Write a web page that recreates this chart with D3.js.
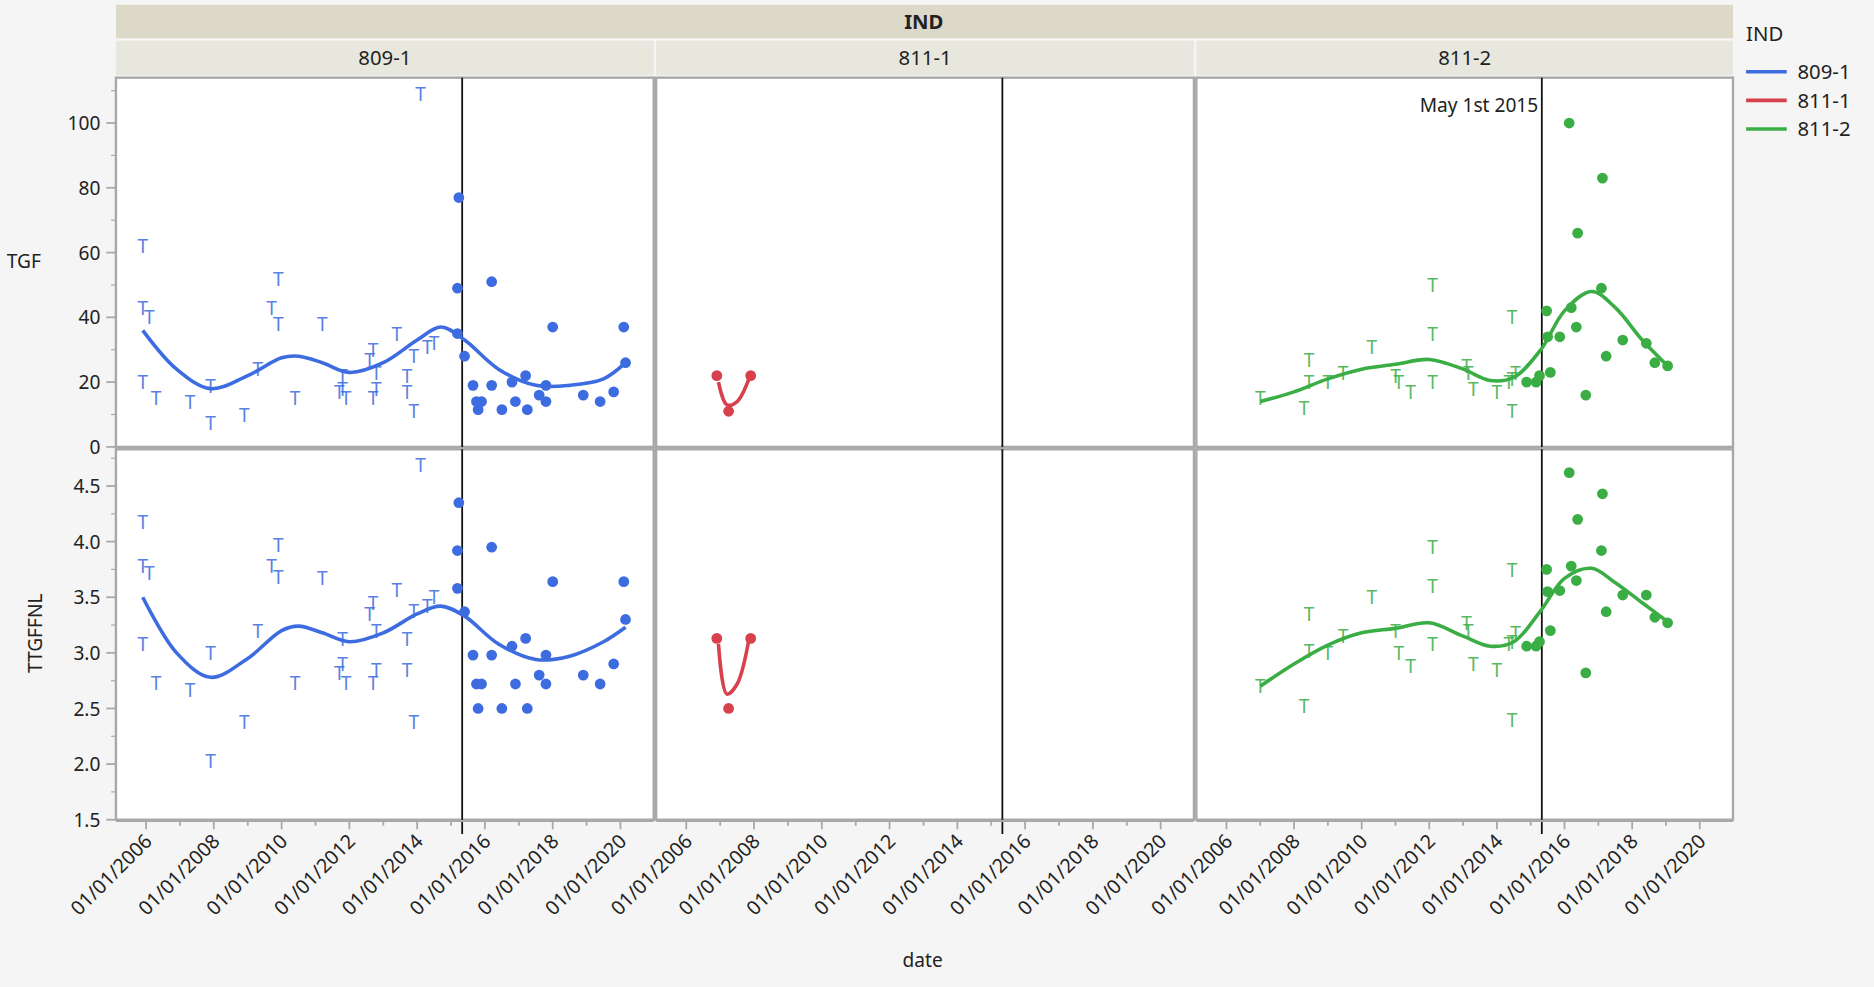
<!DOCTYPE html>
<html lang="en">
<head>
<meta charset="UTF-8">
<title>IND</title>
<script src="https://cdn.jsdelivr.net/npm/d3@7/dist/d3.min.js"></script>
<style>
  *{margin:0;padding:0;}
  body{background:#f5f5f5;overflow:hidden;}
  text{font-family:"Segoe UI","Noto Sans","DejaVu Sans",sans-serif;fill:#222;}
</style>
</head>
<body>
<script>
// groups (IND)
let groups = ["809-1","811-1","811-2"];
let colors = ["#3d6ce0","#d8404c","#3aae45"];
let xTicks = [2006,2008,2010,2012,2014,2016,2018,2020];
let cutYear = 2015.33; // May 1st 2015

// 809-1 : before cut (T markers)
let g1PreYear = [2005.9,2005.9,2006.1,2005.9,2006.3,2007.3,2007.9,2007.9,2008.9,2009.3,2009.7,2009.9,2009.9,2010.4,2011.2,2011.7,2011.8,2011.8,2011.9,2012.6,2012.7,2012.7,2012.8,2012.8,2013.4,2013.7,2013.7,2013.9,2013.9,2014.1,2014.3,2014.5];
let g1PreTGF  = [62,43,40,20,15,14,19,7.5,10,24,43,52,38,15,38,17,22,18,15,27,30,15,18,23,35,22,17,11,28,109,31,32];
let g1PreTT   = [4.18,3.78,3.72,3.08,2.73,2.67,3.0,2.03,2.38,3.2,3.78,3.97,3.68,2.73,3.67,2.82,3.13,2.9,2.73,3.35,3.45,2.73,2.85,3.2,3.57,3.13,2.85,2.38,3.38,4.69,3.42,3.5];
// 809-1 : after cut (dots)
let g1PostYear = [2015.23,2015.19,2015.19,2015.4,2015.65,2015.75,2015.8,2015.9,2016.2,2016.2,2016.5,2016.8,2016.9,2017.2,2017.25,2017.6,2017.8,2017.8,2018.0,2018.9,2019.4,2019.8,2020.1,2020.15];
let g1PostTGF  = [77,49,35,28,19,14,11.5,14,19,51,11.5,20,14,22,11.5,16,14,19,37,16,14,17,37,26];
let g1PostTT   = [4.35,3.92,3.58,3.37,2.98,2.72,2.5,2.72,2.98,3.95,2.5,3.06,2.72,3.13,2.5,2.8,2.72,2.98,3.64,2.8,2.72,2.9,3.64,3.3];
let g1FitYear = [2005.9,2006.9,2007.9,2009.0,2010.0,2010.5,2011.2,2012.0,2013.0,2014.0,2014.7,2015.4,2016.4,2017.5,2018.5,2019.5,2020.15];
let g1FitTGF  = [36,24,18,22,27.5,28,26,23,26,33,37,33,24,19,19,21,26];
let g1FitTT   = [3.5,3.0,2.78,2.95,3.2,3.24,3.18,3.1,3.18,3.35,3.42,3.33,3.08,2.94,2.97,3.1,3.23];

// 811-1
let g2PostYear = [2006.9,2007.25,2007.9];
let g2PostTGF  = [22,11,22];
let g2PostTT   = [3.13,2.5,3.13];
let g2FitYear = [2006.95,2007.2,2007.5,2007.85];
let g2FitTGF  = [20,13,14,21];
let g2FitTT   = [3.08,2.63,2.72,3.12];

// 811-2
let g3PreYear = [2007.0,2008.3,2008.45,2008.45,2009.0,2009.45,2010.3,2011.0,2011.1,2011.45,2012.1,2012.1,2012.1,2013.1,2013.15,2013.3,2014.0,2014.35,2014.45,2014.45,2014.45,2014.55];
let g3PreTGF  = [15,12,27,20,20,23,31,22,20,17,50,35,20,25,23,18,17,20,21,40,11,23];
let g3PreTT   = [2.7,2.52,3.35,3.02,3.0,3.15,3.5,3.2,3.0,2.88,3.95,3.6,3.08,3.27,3.2,2.9,2.85,3.08,3.1,3.75,2.4,3.18];
let g3PostYear = [2014.88,2015.16,2015.26,2015.47,2015.5,2015.58,2015.86,2016.14,2016.2,2016.39,2016.35,2016.63,2017.09,2017.12,2017.23,2017.72,2018.42,2018.67,2019.05];
let g3PostTGF  = [20,20,22,42,34,23,34,100,43,66,37,16,49,83,28,33,32,26,25];
let g3PostTT   = [3.06,3.06,3.1,3.75,3.55,3.2,3.56,4.62,3.78,4.2,3.65,2.82,3.92,4.43,3.37,3.52,3.52,3.32,3.27];
let g3FitYear = [2007.0,2008.0,2009.0,2010.0,2011.0,2012.0,2013.0,2013.8,2014.5,2015.3,2016.0,2016.8,2017.5,2018.3,2019.05];
let g3FitTGF  = [14,17,21,24,25.5,27,24,20.5,21.5,30,42,48,43,33,25];
let g3FitTT   = [2.7,2.9,3.07,3.18,3.22,3.27,3.15,3.06,3.1,3.38,3.67,3.76,3.63,3.45,3.28];

let series = [
  {pre:[g1PreYear,g1PreTGF,g1PreTT], post:[g1PostYear,g1PostTGF,g1PostTT], fit:[g1FitYear,g1FitTGF,g1FitTT]},
  {pre:[[],[],[]], post:[g2PostYear,g2PostTGF,g2PostTT], fit:[g2FitYear,g2FitTGF,g2FitTT]},
  {pre:[g3PreYear,g3PreTGF,g3PreTT], post:[g3PostYear,g3PostTGF,g3PostTT], fit:[g3FitYear,g3FitTGF,g3FitTT]}
];

let W = 1568, H = 826;
let svg = d3.select("body").append("svg")
  .attr("width", 1874).attr("height", 987)
  .attr("viewBox", "0 0 " + W + " " + H)
  .attr("preserveAspectRatio", "none");

let colX = [[97,547],[549,999],[1001,1450]];
let rowY = [[65,374],[376,686]];
let yScales = [
  d3.scaleLinear().domain([0,114]).range([374,65]),
  d3.scaleLinear().domain([1.5,4.83]).range([686,376])
];
let yTicks = [[0,20,40,60,80,100],[1.5,2.0,2.5,3.0,3.5,4.0,4.5]];
let yMinor = [d3.range(10,111,20),d3.range(1.75,4.8,0.5)];
let toDate = y => { let yr = Math.floor(y); return new Date(yr, 0, 1 + Math.round((y-yr)*365)); };

// headers
svg.append("rect").attr("x",97).attr("y",4).attr("width",1353).attr("height",28).attr("fill","#dcd9c8");
svg.append("text").attr("x",773).attr("y",24).attr("text-anchor","middle").attr("font-weight","bold").attr("font-size",17).text("IND");
groups.forEach((g,i) => {
  let [x0,x1] = colX[i];
  svg.append("rect").attr("x",x0).attr("y",34).attr("width",x1-x0).attr("height",29).attr("fill","#e8e7de");
  svg.append("text").attr("x",(x0+x1)/2).attr("y",54).attr("text-anchor","middle").attr("font-size",17).text(g);
});

groups.forEach((g,i) => {
  let [x0,x1] = colX[i];
  let x = d3.scaleTime().domain([new Date(2005,1,10), new Date(2020,11,25)]).range([x0,x1]);
  let s = series[i];
  rowY.forEach((ry,r) => {
    let y = yScales[r];
    svg.append("rect").attr("x",x0).attr("y",ry[0]).attr("width",x1-x0).attr("height",ry[1]-ry[0])
      .attr("fill","#fff").attr("stroke","#a8a8a8").attr("stroke-width",2);
    // reference line
    svg.append("line").attr("x1",x(toDate(cutYear))).attr("x2",x(toDate(cutYear)))
      .attr("y1",ry[0]).attr("y2",r==1?ry[1]+12:ry[1]).attr("stroke","#111").attr("stroke-width",1.5);
    // fit curve
    let fitPts = s.fit[0].map((yr,k) => [x(toDate(yr)), y(s.fit[r+1][k])]);
    svg.append("path").attr("d", d3.line().curve(d3.curveCatmullRom)(fitPts))
      .attr("fill","none").attr("stroke",colors[i]).attr("stroke-width",3);
    // T markers
    svg.append("g").selectAll("text").data(s.pre[0].map((yr,k)=>[yr,s.pre[r+1][k]])).enter().append("text")
      .attr("x",d=>x(toDate(d[0]))).attr("y",d=>y(d[1])+6)
      .attr("text-anchor","middle").attr("font-size",16).style("fill",colors[i]).attr("opacity",0.85).text("T");
    // dots
    svg.append("g").selectAll("circle").data(s.post[0].map((yr,k)=>[yr,s.post[r+1][k]])).enter().append("circle")
      .attr("cx",d=>x(toDate(d[0]))).attr("cy",d=>y(d[1])).attr("r",4.5).attr("fill",colors[i]);
    if (i==2 && r==0) {
      svg.append("text").attr("x",x(toDate(cutYear))-3).attr("y",94).attr("text-anchor","end")
        .attr("font-size",16).text("May 1st 2015");
    }
  });
  // x axis
  let ax = svg.append("g").attr("transform","translate(0,687)");
  ax.append("line").attr("x1",x0).attr("x2",x1).attr("stroke","#a8a8a8").attr("stroke-width",2);
  ax.selectAll(".mn").data(d3.range(2006,2021)).enter().append("line")
    .attr("x1",d=>x(new Date(d,0,1))).attr("x2",d=>x(new Date(d,0,1))).attr("y1",0).attr("y2",d=>d%2==0?7:4)
    .attr("stroke","#a8a8a8").attr("stroke-width",1.5);
  ax.selectAll(".lb").data(xTicks).enter().append("text")
    .attr("transform",d=>"translate("+(x(new Date(d,0,1))+6)+",18) rotate(-45)")
    .attr("text-anchor","end").attr("font-size",16.5).text(d=>"01/01/"+d);
});

// y axes
yScales.forEach((y,r) => {
  let g = svg.append("g");
  g.selectAll(".mn").data(yMinor[r]).enter().append("line")
    .attr("x1",93).attr("x2",97).attr("y1",d=>y(d)).attr("y2",d=>y(d)).attr("stroke","#a8a8a8");
  g.selectAll(".mj").data(yTicks[r]).enter().append("line")
    .attr("x1",89).attr("x2",97).attr("y1",d=>y(d)).attr("y2",d=>y(d)).attr("stroke","#a8a8a8").attr("stroke-width",1.5);
  g.selectAll(".lb").data(yTicks[r]).enter().append("text")
    .attr("x",84).attr("y",d=>y(d)+6).attr("text-anchor","end").attr("font-size",16)
    .text(d=>r==0?d:d.toFixed(1));
});
svg.append("text").attr("x",20).attr("y",224).attr("text-anchor","middle").attr("font-size",16).text("TGF");
svg.append("text").attr("transform","translate(35,530) rotate(-90)").attr("text-anchor","middle").attr("font-size",16).text("TTGFFNL");
svg.append("text").attr("x",772).attr("y",809).attr("text-anchor","middle").attr("font-size",16).text("date");

// legend
svg.append("text").attr("x",1461).attr("y",34).attr("font-size",17).text("IND");
groups.forEach((g,i) => {
  let yy = 60 + i*24;
  svg.append("line").attr("x1",1461).attr("x2",1495).attr("y1",yy).attr("y2",yy).attr("stroke",colors[i]).attr("stroke-width",3);
  svg.append("text").attr("x",1504).attr("y",yy+6).attr("font-size",17).text(g);
});
</script>
</body>
</html>
